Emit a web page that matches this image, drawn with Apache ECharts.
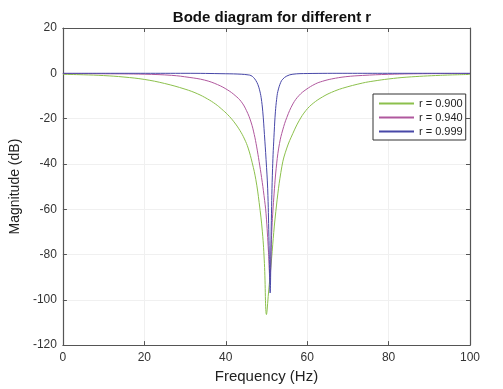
<!DOCTYPE html>
<html>
<head>
<meta charset="utf-8">
<script src="https://cdn.jsdelivr.net/npm/echarts@6/dist/echarts.min.js"></script>
<style>html,body{margin:0;padding:0;background:#fff;overflow:hidden}#c{width:503px;height:389px}</style>
</head>
<body>
<div id="c"></div>
<script>
var seriesNames = ['r = 0.900', 'r = 0.940', 'r = 0.999'];
var xTicks = [0, 20, 40, 60, 80, 100];
var yTicks = [-120, -100, -80, -60, -40, -20, 0, 20];

var freqG = [0,5,10,15,20,25,30,33,35.5,37.5,39,40.5,42,43.5,44.6,45.5,46.5,47.4,48.2,49,49.5,50,50.5,51.1,52.3,53.8,55,56.5,58,59.7,61.5,63.8,66,68.7,73.6,76.4,80,84.5,92.7,100];
var magG  = [-0.45,-0.65,-1.0,-1.65,-2.7,-4.5,-7.0,-9.0,-11.3,-13.6,-15.8,-18.3,-21.4,-25.3,-29,-33,-39.5,-47,-57,-70,-84,-106.5,-97,-85,-61,-41,-33,-26.5,-21,-16.4,-13.2,-10.4,-8.4,-6.6,-4.3,-3.4,-2.5,-1.7,-0.9,-0.5];

var freqM = [0,10,20,26.7,31,34.8,38,40.5,42.3,43.8,45.1,46.2,47,47.6,48.2,48.8,49.4,49.9,50.5,50.85,51.3,51.8,52.5,53.2,54,55,56.5,58,59.7,62,63.8,66,69.5,73.6,80,90,100];
var magM  = [-0.1,-0.2,-0.4,-0.9,-1.8,-3,-5,-7.4,-9.8,-12.5,-16.5,-21.5,-27,-32.5,-39,-46,-54,-62,-79,-91,-70,-55,-40,-31,-25,-19.5,-13.5,-9.8,-7.2,-4.7,-3.5,-2.5,-1.5,-0.95,-0.45,-0.15,-0.1];

var freqB = [0,30,40,43.8,45.5,46.2,46.8,47.4,47.9,48.3,48.7,49.1,49.5,49.9,50.3,50.6,50.9,51.2,51.5,51.9,52.2,52.5,52.8,53.5,54,55,56.5,60,70,100];
var magB  = [0,0,-0.2,-0.4,-0.7,-1.0,-1.8,-3.2,-5.0,-7.3,-10.8,-17,-27,-38,-51,-72,-97,-65,-42,-26,-17,-11.5,-8,-4,-2.6,-1.2,-0.4,-0.1,0,0];

var colors = ['#8cc04c', '#b0589e', '#4848a8'];

function pairs(xs, ys) { return xs.map(function (x, i) { return [x, ys[i]]; }); }

var FONT = '"Liberation Sans", Arial, Helvetica, sans-serif';
var chart = echarts.init(document.getElementById('c'), null, { renderer: 'canvas', width: 503, height: 389 });

var axisLineStyle = { color: '#555', width: 1.2 };
function xAx(pos, show) {
  return {
    type: 'value', position: pos, min: xTicks[0], max: xTicks[xTicks.length - 1],
    interval: xTicks[1] - xTicks[0],
    name: show ? 'Frequency (Hz)' : '', nameLocation: 'middle', nameGap: 23,
    nameTextStyle: { fontFamily: FONT, fontSize: 15, color: '#222' },
    axisLine: { show: true, onZero: false, lineStyle: axisLineStyle },
    axisTick: { show: true, inside: true, length: 4, lineStyle: { color: '#555' } },
    axisLabel: { show: show, margin: 7, fontFamily: FONT, fontSize: 12, color: '#333' },
    splitLine: { show: show, lineStyle: { color: '#f0f0f0', width: 1 } }
  };
}
function yAx(pos, show) {
  return {
    type: 'value', position: pos, min: yTicks[0], max: yTicks[yTicks.length - 1],
    interval: yTicks[1] - yTicks[0],
    name: show ? 'Magnitude (dB)' : '', nameLocation: 'middle', nameGap: 34,
    nameTextStyle: { fontFamily: FONT, fontSize: 14, color: '#222' },
    axisLine: { show: true, onZero: false, lineStyle: axisLineStyle },
    axisTick: { show: true, inside: true, length: 4, lineStyle: { color: '#555' } },
    axisLabel: { show: show, margin: 6, fontFamily: FONT, fontSize: 12, color: '#333' },
    splitLine: { show: show, lineStyle: { color: '#f0f0f0', width: 1 } }
  };
}

var data = [pairs(freqG, magG), pairs(freqM, magM), pairs(freqB, magB)];

chart.setOption({
  animation: false,
  backgroundColor: '#fff',
  title: {
    text: 'Bode diagram for different r', left: 267, top: 5, textAlign: 'center',
    textStyle: { fontFamily: FONT, fontSize: 15, fontWeight: 'bold', color: '#111' }
  },
  grid: { left: 61, width: 409, top: 28, height: 322, containLabel: false },
  xAxis: [xAx('bottom', true), xAx('top', false)],
  yAxis: [yAx('left', true), yAx('right', false)],
  legend: {
    orient: 'vertical', left: 373, top: 94,
    data: seriesNames,
    backgroundColor: '#fff', borderColor: '#333', borderWidth: 1, borderRadius: 0,
    padding: [4, 3, 3, 5], itemWidth: 35, itemHeight: 10, itemGap: 3,
    itemStyle: { opacity: 0, borderWidth: 0 },
    textStyle: { fontFamily: FONT, fontSize: 11, color: '#222' }
  },
  series: seriesNames.map(function (n, i) {
    return {
      name: n, type: 'line', data: data[i], symbol: 'none', showSymbol: false,
      smooth: 0.4,
      lineStyle: { color: colors[i], width: 1 }, itemStyle: { color: colors[i] },
      z: 2 + i
    };
  })
});
</script>
</body>
</html>
